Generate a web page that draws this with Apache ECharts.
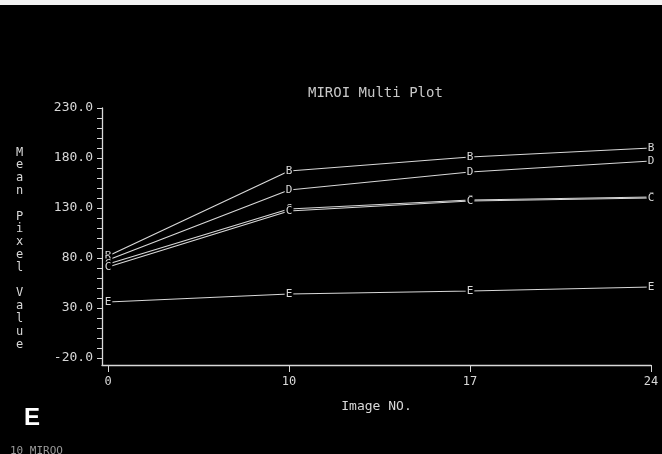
<!DOCTYPE html>
<html><head><meta charset="utf-8">
<script src="https://cdn.jsdelivr.net/npm/echarts@6/dist/echarts.min.js"></script>
<style>html,body{margin:0;padding:0;background:#000;}#c{width:662px;height:454px;}</style>
</head><body><div id="c"></div>
<script>
// ---- data ----
const imageNos = ['0', '10', '17', '24'];
const seriesNames = ['B', 'D', 'C', 'C', 'E'];
const seriesB = [82, 167, 181, 190];
const seriesD = [78, 148, 166, 177];
const seriesC1 = [74, 129, 138, 141];
const seriesC2 = [71, 127, 137, 140];
const seriesE = [36, 44, 47, 51];
const yTickLabels = [-20, 30, 80, 130, 180, 230];
const yMinorTicks = [-20, -10, 0, 10, 20, 30, 40, 50, 60, 70, 80, 90, 100, 110, 120, 130, 140, 150, 160, 170, 180, 190, 200, 210, 220, 230];
const titleText = 'MIROI Multi Plot';
const xName = 'Image NO.';
const yName = 'Mean Pixel Value';

const allValues = [seriesB, seriesD, seriesC1, seriesC2, seriesE];
const mono = 'DejaVu Sans Mono';
const fg = '#d8d8d8';

const chart = echarts.init(document.getElementById('c'), null, {renderer: 'canvas'});
chart.setOption({
  backgroundColor: '#000',
  animation: false,
  title: {
    text: titleText, left: 303, top: 81,
    textStyle: {color: '#c8c8c8', fontFamily: mono, fontSize: 14, fontWeight: 'normal'}
  },
  grid: {left: 102, right: 11, top: 108, bottom: 89},
  xAxis: {
    type: 'value', min: -6 / 181, max: 3,
    name: xName, nameLocation: 'middle', nameGap: 35,
    nameTextStyle: {color: fg, fontFamily: mono, fontSize: 13},
    axisLine: {show: true, onZero: false, lineStyle: {color: fg, width: 1.3}},
    axisTick: {show: true, customValues: [0, 1, 2, 3], length: 7, lineStyle: {color: fg}},
    axisLabel: {customValues: [0, 1, 2, 3], formatter: v => imageNos[Math.round(v)], color: fg, fontFamily: mono, fontSize: 12, margin: 11},
    splitLine: {show: false}
  },
  yAxis: {
    type: 'value', min: -27, max: 230,
    axisLine: {show: true, onZero: false, lineStyle: {color: fg, width: 1.3}},
    axisTick: {show: true, customValues: yMinorTicks, length: 5, lineStyle: {color: fg}},
    axisLabel: {customValues: yTickLabels, formatter: v => v.toFixed(1), color: fg, fontFamily: mono, fontSize: 13, margin: 9},
    splitLine: {show: false}
  },
  graphic: [
    {type: 'rect', shape: {x: 0, y: 0, width: 662, height: 5}, style: {fill: '#f2f2f2'}},
    {type: 'text', left: 16, top: 146, style: {text: yName.split('').join('\n'), fill: fg, font: '12px "DejaVu Sans Mono"', lineHeight: 12.8}},
    {type: 'text', left: 24, top: 406, style: {text: 'E', fill: '#fff', font: 'bold 24px "Liberation Sans"'}},
    {type: 'text', left: 10, top: 446, style: {text: '10 MIROO', fill: '#999', font: '11px "DejaVu Sans Mono"'}}
  ],
  series: allValues.map((vals, si) => ({
    type: 'line',
    name: seriesNames[si],
    data: vals.map((v, i) => [i, v]),
    symbol: 'circle', symbolSize: 1,
    itemStyle: {color: 'rgba(0,0,0,0)'},
    lineStyle: {color: fg, width: 1.2},
    label: {
      show: true, position: 'inside', formatter: () => seriesNames[si],
      color: fg, fontFamily: mono, fontSize: 11, backgroundColor: '#000', padding: [0, 1]
    },
    z: 2 + si
  }))
});
</script>
</body></html>
